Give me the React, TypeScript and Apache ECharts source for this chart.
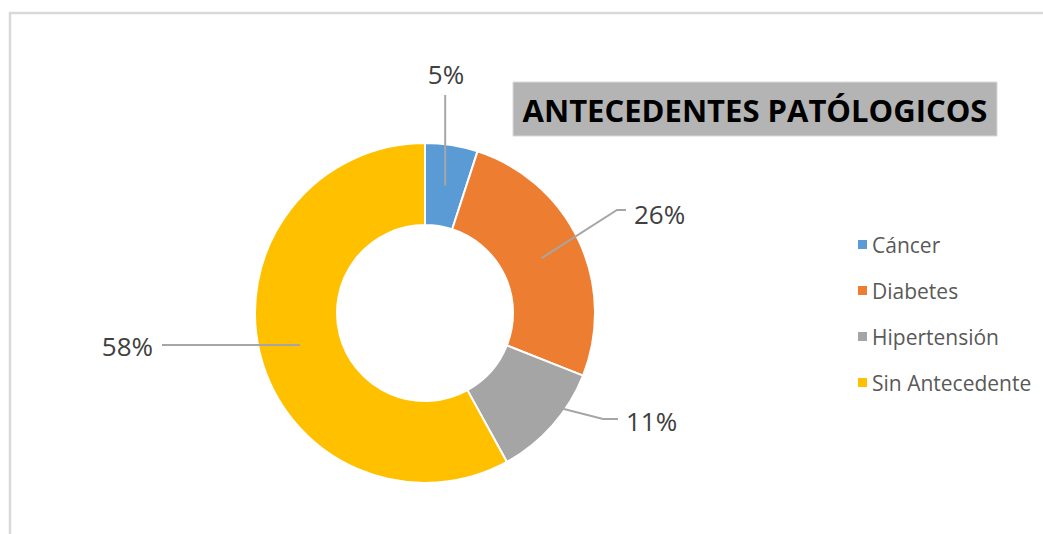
import React, { useEffect, useRef } from "react";
import * as echarts from "echarts";

const categories = ["Cáncer", "Diabetes", "Hipertensión", "Sin Antecedente"];
const values = [5, 26, 11, 58];
const colors = ["#5B9BD5", "#ED7D31", "#A5A5A5", "#FFC000"];
const titleText = "ANTECEDENTES PATÓLOGICOS";

const CENTER: [number, number] = [425, 313];
const R_IN = 88;
const R_OUT = 170;
const R_MID = (R_IN + R_OUT) / 2;

// label text anchors and leader-line end points (Excel-style placement)
const LABEL_LAYOUT = [
  { x: 446, y: 74, align: "center", end: [[446, 95], [446, 95]] },
  { x: 634, y: 214, align: "left", end: [[617, 210], [626, 210]] },
  { x: 626, y: 421, align: "left", end: [[603, 419], [618, 419]] },
  { x: 153, y: 346, align: "right", end: [[200, 343], [162, 343]] },
];

export default function App() {
  const ref = useRef<HTMLDivElement>(null);
  useEffect(() => {
    document.body.style.margin = "0";
    const chart = echarts.init(ref.current!, null, { renderer: "svg" });
    const font = "'Open Sans', 'Noto Sans', sans-serif";
    const data = categories.map((name, i) => ({ name, value: values[i] }));
    chart.setOption({
      animation: false,
      backgroundColor: "#ffffff",
      color: colors,
      textStyle: { fontFamily: font },
      graphic: [
        {
          type: "rect",
          shape: { x: 10, y: 13, width: 1200, height: 700 },
          style: { fill: "none", stroke: "#d9d9d9", lineWidth: 2.5 },
          silent: true,
        },
        {
          type: "rect",
          shape: { x: 513, y: 82, width: 484, height: 54 },
          style: { fill: "#b4b4b4", stroke: "#d9d9d9", lineWidth: 1 },
        },
        {
          type: "text",
          x: 755,
          y: 110,
          style: {
            text: titleText,
            fill: "#000000",
            font: `bold 31px ${font}`,
            align: "center",
            verticalAlign: "middle",
          },
        },
      ],
      legend: {
        orient: "vertical",
        left: 853,
        top: 229,
        icon: "rect",
        itemWidth: 9,
        itemHeight: 9,
        itemGap: 25,
        data: categories.map((name, i) => ({
          name,
          itemStyle: { color: colors[i], borderWidth: 0 },
        })),
        textStyle: {
          color: "#595959",
          fontSize: 21,
          fontFamily: font,
          lineHeight: 21,
          padding: [0, 0, 0, 0],
        },
      },
      series: [
        {
          type: "pie",
          z: 2,
          center: CENTER,
          radius: [R_IN, R_OUT],
          startAngle: 90,
          clockwise: true,
          itemStyle: { borderColor: "#ffffff", borderWidth: 2 },
          label: { show: false },
          labelLine: { show: false },
          emphasis: { disabled: true },
          data,
        },
        {
          type: "pie",
          z: 3,
          center: CENTER,
          radius: [R_IN, R_OUT],
          startAngle: 90,
          clockwise: true,
          avoidLabelOverlap: false,
          silent: true,
          itemStyle: { color: "rgba(0,0,0,0)", borderWidth: 0 },
          label: {
            show: true,
            position: "outside",
            formatter: "{c}%",
            color: "#404040",
            fontSize: 26,
            fontFamily: font,
          },
          labelLine: {
            show: true,
            showAbove: true,
            length: 20,
            length2: 20,
            lineStyle: { color: "#a6a6a6", width: 2 },
          },
          labelLayout: (params: any) => {
            const L = LABEL_LAYOUT[params.dataIndex];
            const p0 = params.labelLinePoints
              ? params.labelLinePoints[0]
              : CENTER;
            const k = R_MID / R_OUT;
            const start = [
              CENTER[0] + (p0[0] - CENTER[0]) * k,
              CENTER[1] + (p0[1] - CENTER[1]) * k,
            ];
            let pts: number[][];
            if (params.dataIndex === 0) {
              pts = [start, [start[0], (start[1] + L.end[0][1]) / 2], [start[0], L.end[0][1]]];
            } else if (params.dataIndex === 3) {
              pts = [start, [L.end[0][0], start[1]], [L.end[1][0], start[1]]];
            } else {
              pts = [start, L.end[0], L.end[1]];
            }
            return {
              x: L.x,
              y: L.y,
              align: L.align,
              verticalAlign: "middle",
              labelLinePoints: pts,
            };
          },
          emphasis: { disabled: true },
          data,
        },
      ],
    });
    return () => chart.dispose();
  }, []);
  return <div ref={ref} style={{ width: 1043, height: 534 }} />;
}
